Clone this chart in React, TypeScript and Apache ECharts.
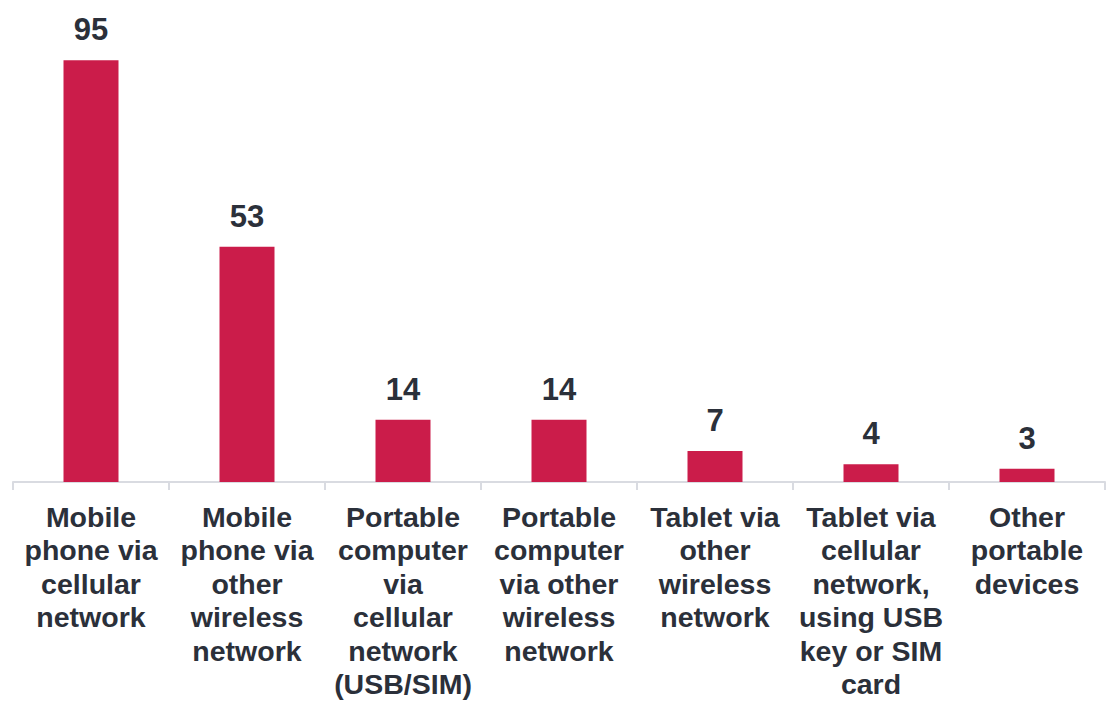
import React, { useEffect, useRef } from "react";
import * as echarts from "echarts";

const categories = [
  "Mobile\nphone via\ncellular\nnetwork",
  "Mobile\nphone via\nother\nwireless\nnetwork",
  "Portable\ncomputer\nvia\ncellular\nnetwork\n(USB/SIM)",
  "Portable\ncomputer\nvia other\nwireless\nnetwork",
  "Tablet via\nother\nwireless\nnetwork",
  "Tablet via\ncellular\nnetwork,\nusing USB\nkey or SIM\ncard",
  "Other\nportable\ndevices",
];
const values = [95, 53, 14, 14, 7, 4, 3];

export default function App() {
  const ref = useRef<HTMLDivElement>(null);
  useEffect(() => {
    const chart = echarts.init(ref.current!, undefined, { renderer: "svg" });
    chart.setOption({
      animation: false,
      grid: { left: 13, right: 9, top: 38, bottom: 224 },
      xAxis: {
        type: "category",
        data: categories,
        axisLine: { lineStyle: { color: "#d9dbe1", width: 2 } },
        axisTick: { show: true, length: 8, lineStyle: { color: "#d9dbe1", width: 2 } },
        axisLabel: {
          interval: 0,
          margin: 18,
          fontFamily: "Liberation Sans, Arial, sans-serif",
          fontWeight: "bold",
          fontSize: 28.5,
          lineHeight: 33.5,
          color: "#2b303a",
          align: "center",
        },
      },
      yAxis: { type: "value", min: 0, max: 100, show: false, splitLine: { show: false } },
      series: [
        {
          type: "bar",
          data: values,
          barWidth: 55,
          itemStyle: { color: "#cb1c4a" },
          label: {
            show: true,
            position: "top",
            distance: 15,
            fontFamily: "Liberation Sans, Arial, sans-serif",
            fontWeight: "bold",
            fontSize: 31,
            color: "#2b303a",
          },
        },
      ],
    });
    return () => chart.dispose();
  }, []);
  return <div ref={ref} style={{ width: 1114, height: 706, position: "absolute", left: 0, top: 0 }} />;
}
